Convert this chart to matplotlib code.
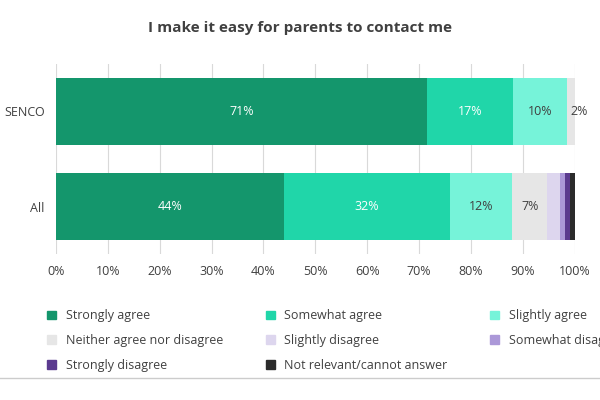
import matplotlib
matplotlib.use("Agg")
import matplotlib.pyplot as plt
from matplotlib.patches import Patch

categories = ["All", "SENCO"]
series = ["Strongly agree", "Somewhat agree", "Slightly agree", "Neither agree nor disagree",
          "Slightly disagree", "Somewhat disagree", "Strongly disagree", "Not relevant/cannot answer"]
values = {
    "SENCO": [71.5, 16.6, 10.4, 1.5, 0, 0, 0, 0],
    "All": [43.9, 32.0, 12.0, 6.8, 2.4, 1.0, 0.9, 1.0],
}
labels = {
    "SENCO": ["71%", "17%", "10%", "2%", "", "", "", ""],
    "All": ["44%", "32%", "12%", "7%", "", "", "", ""],
}
colors = ["#14966c", "#20d6a9", "#76f3d9", "#e6e6e6", "#ddd6ee", "#ab98d8", "#5b3a8f", "#2b2b2b"]
txtcol = ["white", "white", "#404040", "#404040"] + ["#404040"] * 4

fig = plt.figure(figsize=(6, 4), dpi=100)
ax = fig.add_axes([0.093, 0.365, 0.865, 0.475])
for i, cat in enumerate(categories):
    left = 0
    for j, v in enumerate(values[cat]):
        ax.barh(i, v, left=left, height=0.7, color=colors[j])
        if labels[cat][j]:
            x = left + v / 2 if v > 3 else left + v + 0.8
            ax.text(x, i, labels[cat][j], ha="center", va="center", color=txtcol[j], fontsize=9,
                    family="Open Sans")
        left += v
ax.set_xlim(0, 100)
ax.set_ylim(-0.5, 1.5)
ax.set_xticks(range(0, 101, 10))
ax.set_xticklabels([f"{t}%" for t in range(0, 101, 10)], fontsize=9, color="#404040", family="Open Sans")
ax.set_yticks([0, 1])
ax.set_yticklabels(categories, fontsize=9, color="#404040", family="Open Sans")
ax.tick_params(length=0, pad=8)
ax.xaxis.grid(True, color="#d9d9d9", lw=0.8)
ax.set_axisbelow(True)
for s in ax.spines.values():
    s.set_visible(False)
fig.text(0.5, 0.92, "I make it easy for parents to contact me", ha="center", fontsize=11,
         fontweight="bold", color="#404040", family="Open Sans")
order = [0, 3, 6, 1, 4, 7, 2, 5]
handles = [Patch(color=colors[k]) for k in order]
fig.legend(handles, [series[k] for k in order], loc="upper left", bbox_to_anchor=(0.06, 0.255), ncol=3,
           frameon=False, handlelength=0.7, handleheight=0.7, columnspacing=3.4, labelspacing=0.95,
           prop={"family": "Open Sans", "size": 9}, labelcolor="#404040")
fig.add_artist(plt.Line2D([0, 1], [0.055, 0.055], color="#cccccc", lw=1))
fig.savefig("out.png")
